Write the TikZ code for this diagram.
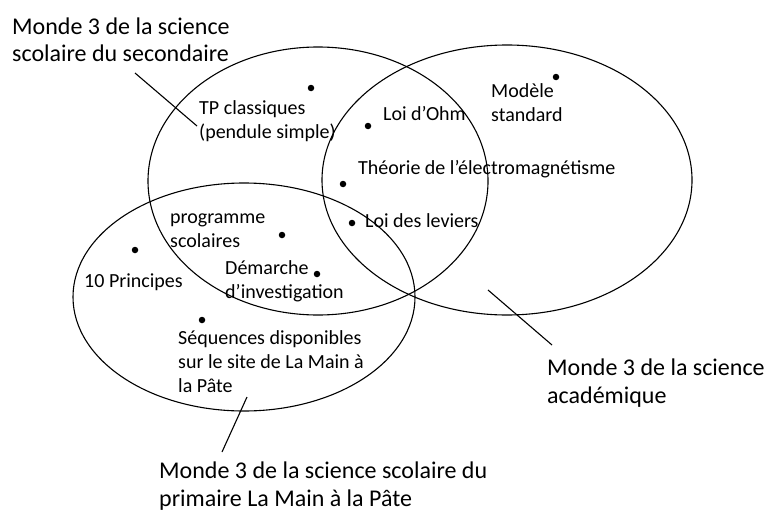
\documentclass[tikz,border=0pt]{standalone}
\usepackage{fontspec}
\setmainfont{Carlito}
\usepackage{tikz}
\usetikzlibrary{shapes.geometric}

\tikzset{
  world/.style={draw,ellipse,line width=1.1pt,inner sep=0pt},
  dot/.style={circle,fill=black,inner sep=0pt,minimum size=6.5pt},
  bigtxt/.style={anchor=base west,align=left,inner sep=0pt,font=\fontsize{24}{28}\selectfont},
  smalltxt/.style={anchor=base west,align=left,inner sep=0pt,font=\fontsize{20}{24}\selectfont},
  leader/.style={line width=1.1pt}
}

\begin{document}
\begin{tikzpicture}[x=1pt,y=-1pt]
  \useasboundingbox (0,0) rectangle (767,511);

  \node[world,minimum width=340,minimum height=268] (sec) at (318,181) {};
  \node[world,minimum width=370,minimum height=270] (acad) at (507,180) {};
  \node[world,minimum width=342,minimum height=228] (prim) at (244,297) {};

  \node[dot] (dTP) at (311,88) {};
  \node[dot] (dOhm) at (368,126) {};
  \node[dot] (dTheo) at (343,184) {};
  \node[dot] (dLev) at (352,223) {};
  \node[dot] (dMod) at (556,77) {};
  \node[dot] (dProg) at (282,235) {};
  \node[dot] (dDem) at (317,274) {};
  \node[dot] (dPrin) at (135,250) {};
  \node[dot] (dSeq) at (202,320) {};

  \node[smalltxt] (tTP) at (199,138) {TP classiques\\(pendule simple)};
  \node[smalltxt] (tOhm) at (383,120) {Loi d’Ohm};
  \node[smalltxt] (tMod) at (491,121) {Modèle\\standard};
  \node[smalltxt] (tTheo) at (358,174) {Théorie de l’électromagnétisme};
  \node[smalltxt] (tLev) at (365,227) {Loi des leviers};
  \node[smalltxt] (tProg) at (170,247) {programme\\scolaires};
  \node[smalltxt] (tDem) at (225,298) {Démarche\\d’investigation};
  \node[smalltxt] (tPrin) at (84,287) {10 Principes};
  \node[smalltxt] (tSeq) at (178,392) {Séquences disponibles\\sur le site de La Main à\\la Pâte};

  \node[bigtxt] (lSec) at (12,62) {Monde 3 de la science\\scolaire du secondaire};
  \node[bigtxt] (lAcad) at (547,403) {Monde 3 de la science\\académique};
  \node[bigtxt] (lPrim) at (159,506) {Monde 3 de la science scolaire du\\primaire La Main à la Pâte};

  \coordinate (secFoot) at (135,73);
  \coordinate (secTip) at (197,126);
  \coordinate (acadFoot) at (552,345);
  \coordinate (acadTip) at (488,290);
  \coordinate (primFoot) at (222,452);
  \coordinate (primTip) at (247,397);
  \draw[leader] (secFoot) -- (secTip);
  \draw[leader] (acadFoot) -- (acadTip);
  \draw[leader] (primFoot) -- (primTip);
\end{tikzpicture}
\end{document}
